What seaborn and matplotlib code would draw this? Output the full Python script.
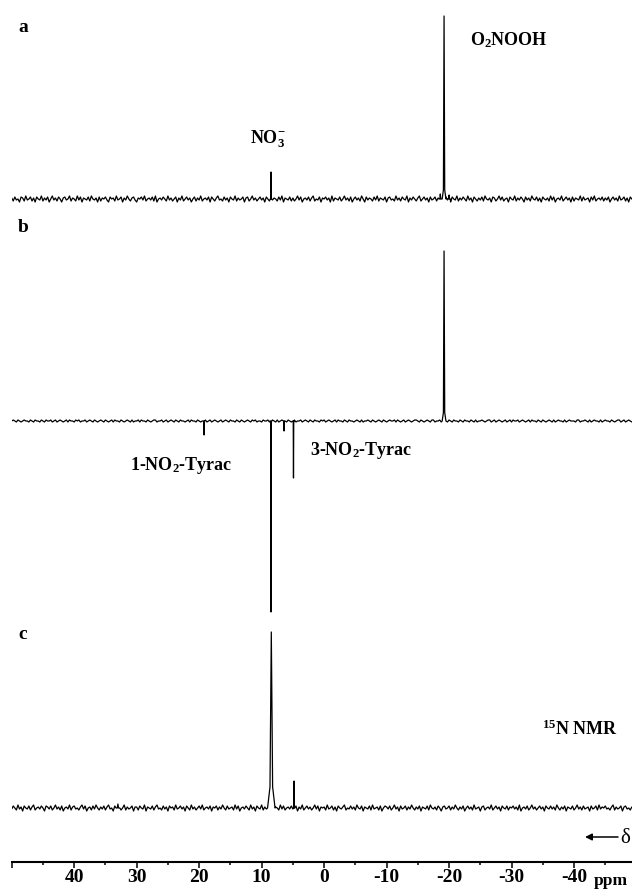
import numpy as np
import pandas as pd
import matplotlib
matplotlib.use("Agg")
import matplotlib.pyplot as plt
import seaborn as sns

# ---------------- data ----------------
ppm_start, ppm_step = 50.0, -0.25

# baseline noise (arbitrary intensity units)
a_noise = [1, -2, 2, -1, 0, -3, 2, 1, -2, 3, -1, 0, 2, -2, 1, -3, 2, 0, -1, 3,
           -2, 1, -1, 2, -3, 0, 3, -1, 1, -2, 2, 0, -3, 1, 2, -1, 0, 3, -2, 1,
           0, -2, 3, -1, 2, -3, 1, 0, -1, 2, -2, 3, 0, -1, 1, -3, 2, -2, 1, 0,
           2, -1, -3, 2, 0, 1, -2, 3, -1, 0, 2, -3, 1, -1, 3, 0, -2, 1, 2, -1,
           -3, 1, 0, 2, -1, 3, -2, 0, 1, -1, 2, -2, 3, -3, 0, 1, -1, 2, 0, -2,
           3, -1, 1, -2, 0, 2, -3, 1, -1, 3, -2, 0, 2, -1, 1, -3, 0, 2, -2, 1,
           -1, 3, -2, 0, 1, -1, 2, -3, 2, 0, -2, 1, 3, -1, 0, -2, 2, -1, 1, -3,
           2, 0, -1, 3, -2, 1, -1, 0, 2, -3, 1, 2, -2, 0, 3, -1, 1, -2, 0, 2,
           -1, 1, -3, 2, 0, -2, 3, -1, 1, 0, -2, 2, -1, 3, -3, 1, 0, -1, 2, -2,
           1, -2, 0, 3, -1, 2, -3, 0, 1, -1, 2, -2, 1, 3, -2, 0, -1, 2, -3, 1,
           0, 2, -1, 1, -3, 3, -2, 1, 0, -1, 2, -2, 0, 3, -1, 1, -2, 2, -3, 0,
           2, -1, 1, -2, 3, 0, -3, 2, -1, 1, 0, -2, 2, -1, 3, -2, 1, 0, -1, 2,
           -3, 1, 2, -1, 0, -2, 3, -1, 1, -2, 2, 0, -1, 3, -3, 1, -1, 2, 0, -2,
           1, 3, -2, 0, 2, -1, 1, -3, 2, -1, 0, 2, -2, 1, 3, -1, -2, 0, 2, -1,
           1, -3, 2, 0, -1, 3, -2, 1, -1, 2, 0, -2, 3, -1, 1, -3, 2, 0, -2, 1,
           -1, 2, -2, 3, 0, -1, 1, -3, 2, 1, -2, 0, 3, -1, 2, -2, 0, 1, -3, 2,
           0, -1, 3, -2, 1, -1, 2, 0, -3, 2, -1, 1, -2, 3, 0, -1, 2, -2, 1, -3,
           2, 0, -1, 1, -2, 3, -1, 2, -3, 0, 1, -1, 3, -2, 0, 2, -1, 1, -3, 2,
           -2, 1, 0, -1, 3, -2, 2, -1, 0, 1, -3, 2, -1, 3, -2, 0, 1, -1, 2, -2,
           1, -1, 2, -3, 0, 2, -1, 1, -2, 3, -1, 0, 2, -2, 1, -3, 2, 0, -1, 1]
b_noise = [0, 1, 0, -1, 1, 0, -1, 0, 1, 0, 0, -1, 1, 0, -1, 1, 0, 0, -1, 1,
           0, -1, 1, 0, 0, 1, -1, 0, 1, -1, 0, 1, 0, -1, 0, 1, -1, 1, 0, 0,
           -1, 1, 0, 1, -1, 0, 0, 1, -1, 0, 1, 0, -1, 1, 0, -1, 0, 1, 0, -1,
           1, 0, -1, 0, 1, -1, 1, 0, 0, -1, 1, 0, -1, 0, 1, 0, -1, 1, -1, 0,
           0, 1, -1, 1, 0, 0, -1, 1, 0, -1, 0, 1, 1, -1, 0, 0, 1, -1, 0, 1,
           -1, 0, 1, 0, -1, 1, 0, -1, 1, 0, 0, -1, 0, 1, -1, 1, 0, 0, -1, 1,
           0, -1, 0, 1, 1, -1, 0, 1, -1, 0, 1, 0, -1, 0, 1, -1, 0, 1, 0, -1,
           1, 0, 0, -1, 1, 0, -1, 1, 0, -1, 0, 1, 0, -1, 1, 0, 1, -1, 0, 0,
           -1, 1, 0, 0, 1, -1, 0, 1, 0, -1, 1, -1, 0, 1, 0, 0, -1, 1, 0, -1,
           0, 1, -1, 0, 0, 1, -1, 0, 1, 0, -1, 1, 0, -1, 1, 0, 0, -1, 1, 0,
           1, -1, 0, 1, 0, -1, 0, 1, -1, 1, 0, 0, -1, 1, 0, -1, 1, 0, 0, -1,
           0, 1, 0, -1, 1, -1, 0, 0, 1, 0, -1, 1, 0, -1, 0, 1, 0, -1, 1, 0,
           -1, 0, 1, 0, 0, 1, -1, 1, 0, -1, 0, 1, -1, 0, 1, 0, -1, 0, 1, 1,
           0, -1, 1, 0, -1, 0, 1, 0, -1, 1, 1, -1, 0, 0, 1, -1, 0, 1, 0, -1,
           1, 0, -1, 1, 0, 0, -1, 1, 0, -1, 1, 0, 0, -1, 1, 0, -1, 1, -1, 0,
           0, 1, 0, -1, 0, 1, 1, -1, 0, 1, -1, 0, 1, 0, -1, 0, 1, -1, 0, 1,
           -1, 1, 0, 0, 1, -1, 0, 1, 0, -1, 0, 1, -1, 1, 0, 0, -1, 1, 0, -1,
           1, 0, -1, 0, 1, 0, -1, 1, -1, 0, 1, 0, 0, -1, 1, -1, 0, 1, 0, 0,
           0, -1, 1, 1, -1, 0, 0, 1, 0, -1, 1, -1, 0, 1, 0, 0, -1, 1, -1, 0,
           1, 0, 0, -1, 1, 0, -1, 0, 1, 1, -1, 0, 1, -1, 0, 1, 0, -1, 0, 1]
c_noise = [-1, 2, 0, -2, 3, -1, 1, -3, 2, 0, -1, 2, -2, 1, 3, -2, 0, 1, -1, 2,
           0, -3, 2, 1, -1, 2, -2, 0, 3, -1, 1, -2, 2, -3, 0, 1, -1, 3, -2, 1,
           2, -1, 0, -2, 1, 3, -1, 2, -3, 0, 1, -2, 2, -1, 3, 0, -2, 1, -1, 2,
           -2, 1, 3, -1, 0, -3, 2, -1, 1, 2, -2, 0, 3, -2, 1, -1, 0, 2, -3, 1,
           1, -2, 2, 0, -1, 3, -3, 1, 0, -1, 2, -2, 1, 3, -1, 0, -2, 2, -1, 1,
           -3, 2, 0, 1, -2, 3, -1, 0, 2, -1, 1, -3, 2, 0, -2, 3, -1, 1, -2, 0,
           2, -1, 3, -2, 0, 1, -1, 2, -3, 1, 0, 2, -2, 1, -1, 3, 0, -2, 2, -1,
           0, 1, -2, 3, -1, 2, -3, 0, 1, -1, 2, 0, -2, 3, -1, 1, -3, 2, 0, -1,
           3, -2, 1, -1, 0, 2, -3, 2, -1, 1, 0, -2, 3, -1, 2, -2, 0, 1, -1, 2,
           -1, 0, 2, -3, 1, -1, 3, -2, 0, 2, -1, 1, -2, 0, 3, -1, 2, -3, 1, 0,
           1, -2, 3, -1, 0, 2, -2, 1, -3, 2, 0, -1, 1, 3, -2, 0, -1, 2, -1, 1,
           -2, 3, 0, -1, 2, -3, 1, 0, -1, 2, -2, 3, -1, 0, 1, -2, 2, -3, 0, 2,
           1, -1, 2, -2, 0, 3, -1, 1, -3, 2, -1, 0, 2, -2, 1, -1, 3, 0, -2, 1,
           -1, 2, -3, 1, 0, -1, 2, -2, 3, 0, -1, 1, -2, 2, 0, -3, 1, 2, -1, 0,
           2, -2, 1, -1, 3, 0, -2, 1, -1, 2, -3, 0, 2, -1, 1, -2, 3, -1, 0, 1,
           -3, 1, 2, -2, 0, 1, -1, 3, -2, 0, 2, -1, 1, -3, 2, 0, -1, 2, -2, 1,
           0, 2, -1, 1, -2, 3, -3, 0, 1, -1, 2, -2, 0, 3, -1, 1, -2, 0, 2, -1,
           1, -3, 2, 0, -1, 2, -1, 1, -2, 3, 0, -2, 1, -1, 2, -3, 1, 0, -1, 2,
           -2, 0, 3, -1, 1, -2, 2, -1, 0, 1, -3, 2, -1, 0, 2, -2, 3, -1, 1, 0,
           2, -1, 0, -2, 1, 3, -2, 1, -1, 0, 2, -3, 1, 2, -1, 0, -2, 1, -1, 2]

# peaks: position (ppm), intensity, half width at base (ppm), foot fraction
a_peak_ppm = [-19.2, 8.5, -18.6, -20.0]
a_peak_int = [183, 27, 5, 4]
a_peak_hw = [0.3, 0.12, 0.2, 0.2]
a_peak_foot = [0.05, 0.0, 0.0, 0.0]
b_peak_ppm = [-19.2, 8.5, 4.9, 19.2, 6.4]
b_peak_int = [170, -191, -57, -14, -10]
b_peak_hw = [0.3, 0.15, 0.12, 0.12, 0.12]
b_peak_foot = [0.05, 0.0, 0.0, 0.0, 0.0]
c_peak_ppm = [8.45, 4.8, 33.0]
c_peak_int = [176, 27, 4]
c_peak_hw = [0.6, 0.12, 0.3]
c_peak_foot = [0.12, 0.0, 0.0]

major_ticks = [50, 40, 30, 20, 10, 0, -10, -20, -30, -40]
major_labels = ["", "40", "30", "20", "10", "0", "-10", "-20", "-30", "-40"]
minor_ticks = [45, 35, 25, 15, 5, -5, -15, -25, -35, -45]

# ---------------- style ----------------
sns.set_theme(style="white")
plt.rcParams["font.family"] = ["Liberation Serif", "DejaVu Serif"]
plt.rcParams["font.weight"] = "bold"
plt.rcParams["mathtext.fontset"] = "custom"
plt.rcParams["mathtext.rm"] = "Liberation Serif:bold"
plt.rcParams["mathtext.bf"] = "Liberation Serif:bold"
plt.rcParams["mathtext.it"] = "Liberation Serif:bold"
plt.rcParams["mathtext.default"] = "rm"

W, H = 632, 893
AX_BOTTOM_PX = 862
fig = plt.figure(figsize=(W / 100, H / 100), dpi=100)
fig.patch.set_facecolor("white")
left_px = 11.7
ax = fig.add_axes([left_px / W, (H - AX_BOTTOM_PX) / H, 1 - left_px / W, AX_BOTTOM_PX / H])
ax.set_facecolor("white")


def build(noise, pk_ppm, pk_int, pk_hw, pk_foot, offset):
    ppm = ppm_start + ppm_step * np.arange(len(noise))
    df = pd.DataFrame({"ppm": ppm, "y": np.array(noise, dtype=float)})
    rows = []
    for p, h, w, f in zip(pk_ppm, pk_int, pk_hw, pk_foot):
        df = df[np.abs(df["ppm"] - p) >= w]
        rows += [(p + w, 0.0), (p + 0.35 * w, f * h), (p, float(h)),
                 (p - 0.35 * w, f * h), (p - w, 0.0)]
    df = pd.concat([df, pd.DataFrame(rows, columns=["ppm", "y"])], ignore_index=True)
    df = df.sort_values("ppm", ascending=False).reset_index(drop=True)
    df["y"] = df["y"] + offset
    return df


baseline_px = {"a": 199, "b": 421, "c": 808}
spectra = {
    "a": build(a_noise, a_peak_ppm, a_peak_int, a_peak_hw, a_peak_foot,
               AX_BOTTOM_PX - baseline_px["a"]),
    "b": build(b_noise, b_peak_ppm, b_peak_int, b_peak_hw, b_peak_foot,
               AX_BOTTOM_PX - baseline_px["b"]),
    "c": build(c_noise, c_peak_ppm, c_peak_int, c_peak_hw, c_peak_foot,
               AX_BOTTOM_PX - baseline_px["c"]),
}
for key, df in spectra.items():
    sns.lineplot(data=df, x="ppm", y="y", sort=False, estimator=None,
                 color="black", lw=0.9, ax=ax)

ax.set_xlim(50, -49.28)
ax.set_ylim(0, AX_BOTTOM_PX)
for s in ["left", "top", "right"]:
    ax.spines[s].set_visible(False)
ax.spines["bottom"].set_color("black")
ax.spines["bottom"].set_linewidth(1.5)
ax.set_yticks([])
ax.set_xticks(major_ticks)
ax.set_xticklabels(major_labels)
ax.set_xticks(minor_ticks, minor=True)
ax.tick_params(axis="x", which="major", bottom=True, length=4.2, width=1.1,
               color="black", direction="out", labelsize=14, pad=1.2, labelcolor="black")
ax.tick_params(axis="x", which="minor", bottom=True, length=2.5, width=1.1,
               color="black", direction="out")
for lab in ax.get_xticklabels():
    lab.set_fontweight("bold")
ax.set_xlabel("")
ax.set_ylabel("")


def ptext(x, y, s, ha="left", va="baseline", size=13, **kw):
    fig.text(x / W, 1 - y / H, s, ha=ha, va=va, fontsize=size,
             fontweight="bold", color="black", **kw)


ptext(18, 32, "a", size=14)
ptext(18, 232, "b", size=14)
ptext(18, 639, "c", size=14)
ptext(470, 45, r"O$_2$NOOH")
ptext(250, 143, r"NO$_3^{-}$")
ptext(232, 470, r"1-NO$_2$-Tyrac", ha="right")
ptext(310, 455, r"3-NO$_2$-Tyrac")
ptext(542, 735, r"$^{15}$N NMR")
ptext(594, 885, "ppm", size=12.5)

ax.annotate("", xy=(585, H - 837), xytext=(618, H - 837), xycoords="figure pixels",
            textcoords="figure pixels",
            arrowprops=dict(arrowstyle="-|>", lw=1.1, color="black",
                            mutation_scale=10, shrinkA=0, shrinkB=0))
fig.text(620 / W, 1 - 843 / H, "δ", fontsize=15, fontweight="normal",
         color="black", ha="left", va="baseline")

fig.savefig("out.png", dpi=100, facecolor="white")
